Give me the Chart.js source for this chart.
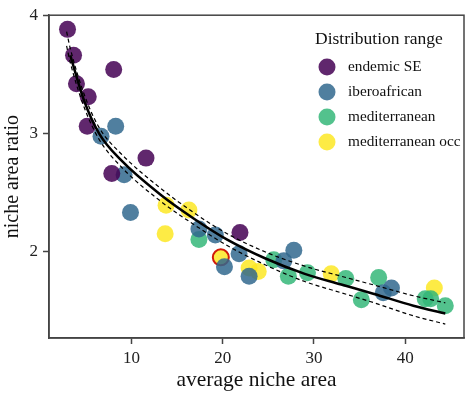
<!DOCTYPE html>
<html>
<head>
<meta charset="utf-8">
<script src="https://cdn.jsdelivr.net/npm/chart.js@4.4.1/dist/chart.umd.min.js"></script>
<style>
  html, body { margin: 0; padding: 0; background: #fff; }
  #wrap { width: 474px; height: 393px; }
</style>
</head>
<body>
<div id="wrap"><canvas id="nicheChart" width="474" height="393"></canvas></div>
<script>
// niche area ratio vs average niche area, one series per distribution range

const endemicX = [3.0, 3.66, 3.98, 5.27, 5.16, 8.06, 7.85, 11.6, 21.9];
const endemicY = [3.88, 3.66, 3.42, 3.31, 3.06, 3.54, 2.66, 2.79, 2.16];

const iberoX = [8.28, 6.67, 9.2, 9.9, 17.4, 19.2, 21.8, 20.2, 22.9, 27.8, 26.7, 38.5, 37.6];
const iberoY = [3.06, 2.975, 2.65, 2.33, 2.19, 2.14, 1.98, 1.87, 1.79, 2.01, 1.92, 1.69, 1.65];

const medX = [17.4, 25.6, 27.2, 29.3, 33.5, 35.2, 37.1, 42.2, 42.8, 44.4];
const medY = [2.10, 1.93, 1.79, 1.82, 1.77, 1.59, 1.78, 1.60, 1.60, 1.54];

const occX = [13.8, 16.3, 13.7, 22.9, 23.9, 31.9, 43.2];
const occY = [2.39, 2.35, 2.15, 1.86, 1.83, 1.81, 1.69];

// the one point ringed in red
const markedX = [19.8];
const markedY = [1.95];

// fitted curve and its confidence band
const fitX = [3.3, 4.8, 6.45, 8.9, 13.2, 16.9, 20.5, 24.7, 29, 33, 36.6, 40.9, 44.4];
const fitY = [3.66, 3.28, 3.00, 2.77, 2.48, 2.275, 2.10, 1.94, 1.81, 1.72, 1.64, 1.54, 1.475];
const bandX = [2.9, 3.3, 4.8, 6.45, 8.9, 13.2, 16.9, 20.5, 24.7, 29, 33, 36.6, 40.9, 44.4];
const upperY = [3.86, 3.72, 3.335, 3.05, 2.825, 2.535, 2.325, 2.15, 1.995, 1.875, 1.79, 1.715, 1.625, 1.565];
const lowerY = [3.74, 3.60, 3.225, 2.95, 2.715, 2.425, 2.225, 2.05, 1.885, 1.745, 1.65, 1.565, 1.455, 1.385];

const xTicks = [10, 20, 30, 40];
const yTicks = [2, 3, 4];

const groupNames = ['endemic SE', 'iberoafrican', 'mediterranean', 'mediterranean occ'];
const groupColors = ['rgba(68,1,84,0.85)', 'rgba(49,104,142,0.85)', 'rgba(53,183,121,0.85)', 'rgba(253,231,37,0.85)'];

const SERIF = '"Liberation Serif", "DejaVu Serif", serif';
const AXIS = '#444';

function pts(xs, ys) {
    return xs.map((x, i) => ({ x: x, y: ys[i] }));
}

function pointSet(label, xs, ys, color) {
    return {
        type: 'scatter',
        label: label,
        data: pts(xs, ys),
        backgroundColor: color,
        borderWidth: 0,
        pointRadius: 8.5,
        pointHoverRadius: 8.5,
        order: 2
    };
}

function lineSet(label, xs, ys, width, dash) {
    return {
        type: 'line',
        label: label,
        data: pts(xs, ys),
        borderColor: '#000',
        borderWidth: width,
        borderDash: dash,
        pointRadius: 0,
        fill: false,
        cubicInterpolationMode: 'monotone',
        order: 1
    };
}

// frame on all four sides + the legend in the top right
const framePlugin = {
    id: 'frame',
    afterDraw(chart) {
        const c = chart.ctx;
        const a = chart.chartArea;
        c.save();
        c.strokeStyle = AXIS;
        c.lineWidth = 1.5;
        c.strokeRect(a.left, a.top, a.right - a.left, a.bottom - a.top);

        c.fillStyle = '#111';
        c.textBaseline = 'middle';
        c.textAlign = 'left';
        c.font = '17.5px ' + SERIF;
        c.fillText('Distribution range', 315, 39);
        c.font = '15.3px ' + SERIF;
        groupNames.forEach((name, i) => {
            const y = 67 + i * 25;
            c.beginPath();
            c.arc(327, y, 8.5, 0, Math.PI * 2);
            c.fillStyle = groupColors[i];
            c.fill();
            c.fillStyle = '#111';
            c.fillText(name, 348, y);
        });
        c.restore();
    }
};

new Chart(document.getElementById('nicheChart'), {
    type: 'scatter',
    data: {
        datasets: [
            lineSet('fit', fitX, fitY, 2.5, []),
            lineSet('upper', bandX, upperY, 1.2, [4, 3]),
            lineSet('lower', bandX, lowerY, 1.2, [4, 3]),
            pointSet(groupNames[0], endemicX, endemicY, groupColors[0]),
            pointSet(groupNames[1], iberoX, iberoY, groupColors[1]),
            pointSet(groupNames[2], medX, medY, groupColors[2]),
            pointSet(groupNames[3], occX, occY, groupColors[3]),
            {
                type: 'scatter',
                label: 'marked',
                data: pts(markedX, markedY),
                backgroundColor: groupColors[3],
                borderColor: '#d11a0a',
                borderWidth: 2,
                pointRadius: 8,
                order: 2
            }
        ]
    },
    options: {
        responsive: false,
        animation: false,
        events: [],
        layout: { padding: { top: 10, right: 2, left: 0, bottom: 0 } },
        plugins: {
            legend: { display: false },
            tooltip: { enabled: false }
        },
        scales: {
            x: {
                type: 'linear',
                min: 0.97,
                max: 46.45,
                afterBuildTicks: s => { s.ticks = xTicks.map(v => ({ value: v })); },
                afterFit: s => { s.height = 55; },
                grid: { drawOnChartArea: false, tickLength: 6, tickColor: AXIS, tickWidth: 1.5 },
                border: { display: true, color: AXIS, width: 1.5 },
                ticks: { color: '#222', padding: 4, font: { family: SERIF, size: 17 } },
                title: {
                    display: true,
                    text: 'average niche area',
                    color: '#111',
                    padding: { top: 0, bottom: 0 },
                    font: { family: SERIF, size: 21.5 }
                }
            },
            y: {
                type: 'linear',
                min: 1.267,
                max: 4.0,
                afterBuildTicks: s => { s.ticks = yTicks.map(v => ({ value: v })); },
                afterFit: s => { s.width = 49; },
                grid: { drawOnChartArea: false, tickLength: 6, tickColor: AXIS, tickWidth: 1.5 },
                border: { display: true, color: AXIS, width: 1.5 },
                ticks: { color: '#222', padding: 5, font: { family: SERIF, size: 17 } },
                title: {
                    display: true,
                    text: 'niche area ratio',
                    color: '#111',
                    padding: { top: 1, bottom: 0 },
                    font: { family: SERIF, size: 20 }
                }
            }
        }
    },
    plugins: [framePlugin]
});
</script>
</body>
</html>
